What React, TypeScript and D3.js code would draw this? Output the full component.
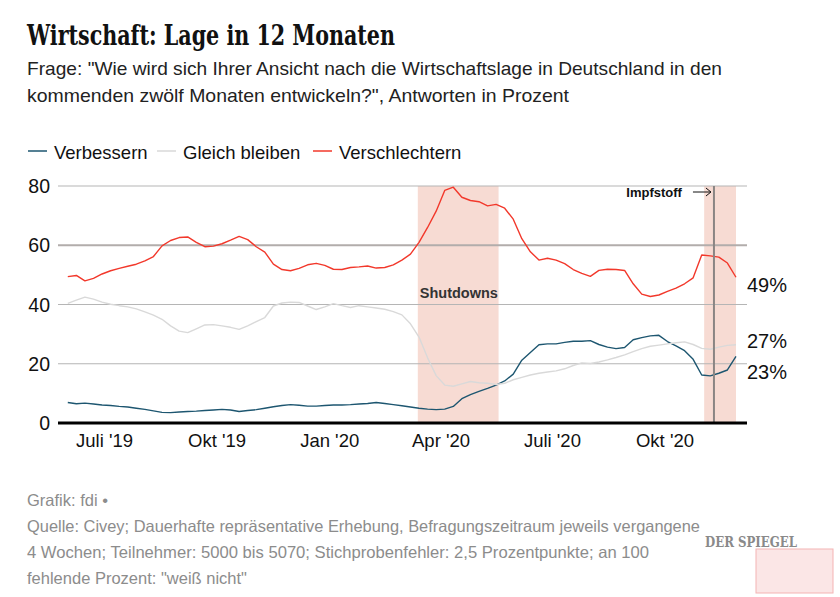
import React from "react";
import * as d3 from "d3";

const dates = [
  "2019-06-01","2019-06-08","2019-06-15","2019-06-22","2019-06-29","2019-07-06","2019-07-13","2019-07-20","2019-07-27","2019-08-03",
  "2019-08-10","2019-08-17","2019-08-24","2019-08-31","2019-09-07","2019-09-14","2019-09-21","2019-09-28","2019-10-05","2019-10-12",
  "2019-10-19","2019-10-26","2019-11-02","2019-11-09","2019-11-16","2019-11-23","2019-11-30","2019-12-07","2019-12-14","2019-12-21",
  "2019-12-28","2020-01-04","2020-01-11","2020-01-18","2020-01-25","2020-02-01","2020-02-08","2020-02-15","2020-02-22","2020-02-29",
  "2020-03-07","2020-03-14","2020-03-21","2020-03-28","2020-04-04","2020-04-11","2020-04-18","2020-04-25","2020-05-02","2020-05-09",
  "2020-05-16","2020-05-23","2020-05-30","2020-06-06","2020-06-13","2020-06-20","2020-06-27","2020-07-04","2020-07-11","2020-07-18",
  "2020-07-25","2020-08-01","2020-08-08","2020-08-15","2020-08-22","2020-08-29","2020-09-05","2020-09-12","2020-09-19","2020-09-26",
  "2020-10-03","2020-10-10","2020-10-17","2020-10-24","2020-10-31","2020-11-07","2020-11-14","2020-11-21","2020-11-28"
];

const verschlechtern = [
  49.4,49.8,48.0,48.8,50.3,51.4,52.2,52.9,53.6,54.7,
  56.2,59.8,61.6,62.6,62.8,61.0,59.5,59.7,60.5,61.7,
  63.0,61.9,59.5,57.7,53.6,51.8,51.4,52.2,53.4,53.9,
  53.2,51.9,51.8,52.5,52.7,53.0,52.3,52.5,53.4,55.0,
  57.0,61.0,66.0,71.5,78.5,79.6,76.2,75.1,74.7,73.3,
  73.8,72.5,68.8,62.2,57.8,55.0,55.6,55.0,53.8,51.8,
  50.5,49.5,51.5,51.9,51.8,51.5,47.0,43.5,42.7,43.2,
  44.4,45.5,47.0,49.0,56.7,56.4,56.0,54.0,49.2
];

const gleichBleiben = [
  40.4,41.5,42.5,41.8,40.8,40.1,39.6,39.2,38.5,37.5,
  36.4,35.0,32.8,31.0,30.5,31.8,33.1,33.2,32.8,32.3,
  31.6,32.8,34.2,35.6,39.5,40.5,40.8,40.7,39.5,38.3,
  39.2,40.3,39.6,39.0,39.6,39.2,38.8,38.4,37.6,36.5,
  33.5,29.0,22.0,16.0,12.8,12.4,13.2,14.0,13.6,13.4,
  13.0,13.4,14.6,15.4,16.2,16.8,17.2,17.6,18.3,19.4,
  20.3,20.1,20.6,21.3,22.1,23.0,24.1,25.1,25.9,26.3,
  26.7,27.1,27.4,26.5,25.2,24.9,25.6,26.2,26.4
];

const verbessern = [
  6.9,6.5,6.7,6.4,6.1,5.9,5.6,5.4,5.0,4.6,
  4.1,3.6,3.5,3.7,3.9,4.0,4.2,4.4,4.6,4.4,
  3.9,4.2,4.5,5.0,5.5,5.9,6.2,6.0,5.7,5.7,
  5.9,6.1,6.1,6.2,6.4,6.6,6.9,6.6,6.2,5.8,
  5.4,5.0,4.7,4.5,4.7,5.6,8.2,9.6,10.7,11.7,
  12.8,14.2,16.5,21.2,23.8,26.4,26.7,26.7,27.2,27.6,
  27.6,27.8,26.5,25.6,25.1,25.5,28.1,28.8,29.4,29.6,
  27.5,26.0,24.4,21.5,16.2,15.9,16.8,17.9,22.5
];

const seriesNames = ["Verbessern", "Gleich bleiben", "Verschlechtern"];
const endLabels = ["23%", "27%", "49%"];

const yTicks = [0, 20, 40, 60, 80];
const xTickDates = ["2019-07-01", "2019-10-01", "2020-01-01", "2020-04-01", "2020-07-01", "2020-10-01"];
const xTickLabels = ["Juli '19", "Okt '19", "Jan '20", "Apr '20", "Juli '20", "Okt '20"];

const bandStarts = ["2020-03-13", "2020-11-02"];
const bandEnds = ["2020-05-18", "2020-11-28"];
const bandLabels = ["Shutdowns", ""];
const vaccineDate = "2020-11-10";
const vaccineLabel = "Impfstoff";

const title = "Wirtschaft: Lage in 12 Monaten";
const subtitleLines = [
  "Frage: \"Wie wird sich Ihrer Ansicht nach die Wirtschaftslage in Deutschland in den",
  "kommenden zwölf Monaten entwickeln?\", Antworten in Prozent",
];
const footerLines = [
  "Grafik: fdi •",
  "Quelle: Civey; Dauerhafte repräsentative Erhebung, Befragungszeitraum jeweils vergangene",
  "4 Wochen; Teilnehmer: 5000 bis 5070; Stichprobenfehler: 2,5 Prozentpunkte; an 100",
  "fehlende Prozent: \"weiß nicht\"",
];

const parse = d3.timeParse("%Y-%m-%d");

export default function App() {
  const W = 840, H = 597;
  const left = 58, right = 747, top = 186, bottom = 423;
  const x = d3.scaleTime()
    .domain([parse("2019-05-24")!, parse("2020-12-07")!])
    .range([left, right]);
  const y = d3.scaleLinear().domain([0, 80]).range([bottom, top]);

  const parsed = dates.map((d) => parse(d)!);
  const allSeries = [verbessern, gleichBleiben, verschlechtern];
  const colors = ["#1d5670", "#d9d9d9", "#f2382b"];

  const line = d3.line<number>()
    .x((_, i) => x(parsed[i]))
    .y((v) => y(v));

  const sans = "'Liberation Sans', Arial, sans-serif";
  const labelDy = [23, 3, 14.5];

  const legendX = [28, 157, 313];
  const subtitleWidths = [695, 542];
  const footerWidths = [0, 673, 622, 0];

  const vx = x(parse(vaccineDate)!);

  return (
    <svg width={W} height={H} style={{ position: "absolute", left: 0, top: 0, background: "#fff" }}>
      <rect x={0} y={0} width={W} height={H} fill="#fff" />
      <text x={27} y={45} fontFamily="'DejaVu Serif', 'Liberation Serif', serif" fontWeight={700}
        fontSize={27} textLength={368} lengthAdjust="spacingAndGlyphs" fill="#111">{title}</text>
      {subtitleLines.map((t, i) => (
        <text key={i} x={27} y={75 + i * 27} fontFamily={sans} fontSize={19}
          textLength={subtitleWidths[i]} lengthAdjust="spacingAndGlyphs" fill="#222">{t}</text>
      ))}

      {seriesNames.map((n, i) => (
        <g key={n}>
          <line x1={legendX[i]} x2={legendX[i] + 19} y1={151} y2={151} stroke={colors[i]} strokeWidth={1.5} />
          <text x={legendX[i] + 26} y={159} fontFamily={sans} fontSize={18.5} fill="#111">{n}</text>
        </g>
      ))}

      {bandStarts.map((s, i) => {
        const x0 = x(parse(s)!), x1 = x(parse(bandEnds[i])!);
        return (
          <g key={s}>
            <rect x={x0} y={top} width={x1 - x0} height={bottom - top} fill="#f7dbd3" />
            {bandLabels[i] && (
              <text x={x0 + 2} y={298} fontFamily={sans} fontWeight={700} fontSize={14.5} fill="#333">{bandLabels[i]}</text>
            )}
          </g>
        );
      })}

      {yTicks.filter((t) => t !== 0).map((t) => (
        <line key={t} x1={left} x2={right} y1={y(t)} y2={y(t)} stroke={t === 60 ? "#b2adab" : "#b5b5b5"} strokeWidth={t === 60 ? 2 : 1} />
      ))}
      {yTicks.map((t) => (
        <text key={t} x={50} y={y(t) + 7} textAnchor="end" fontFamily={sans} fontSize={19.5} fill="#111">{t}</text>
      ))}

      {allSeries.map((s, i) => (
        <path key={i} d={line(s) || ""} fill="none" stroke={colors[i]} strokeWidth={1.4} strokeLinejoin="round" />
      ))}

      <line x1={vx} x2={vx} y1={top} y2={bottom} stroke="#8a8584" strokeWidth={2} />
      <text x={vx - 32} y={197} textAnchor="end" fontFamily={sans} fontWeight={700} fontSize={13} fill="#111">{vaccineLabel}</text>
      <line x1={vx - 21} x2={vx - 3} y1={192} y2={192} stroke="#111" strokeWidth={1} />
      <path d={`M${vx - 8},188 L${vx - 3},192 L${vx - 8},196`} fill="none" stroke="#111" strokeWidth={1} />

      <line x1={left} x2={right} y1={bottom} y2={bottom} stroke="#000" strokeWidth={3} />
      {xTickDates.map((d, i) => (
        <text key={d} x={x(parse(d)!)} y={447} textAnchor="middle" fontFamily={sans} fontSize={18.5} fill="#111">{xTickLabels[i]}</text>
      ))}

      {allSeries.map((s, i) => (
        <text key={i} x={747} y={y(s[s.length - 1]) + labelDy[i]} fontFamily={sans} fontSize={20} fill="#111">{endLabels[i]}</text>
      ))}

      {footerLines.map((t, i) => (
        <text key={i} x={27} y={506 + i * 26} fontFamily={sans} fontSize={16.5} fill="#8c8c8c"
          {...(footerWidths[i] ? { textLength: footerWidths[i], lengthAdjust: "spacingAndGlyphs" } : {})}>{t}</text>
      ))}

      <text x={705} y={547} fontFamily="'DejaVu Serif', serif" fontWeight={700} fontSize={15}
        textLength={92} lengthAdjust="spacingAndGlyphs" fill="#8a8a8a">DER SPIEGEL</text>
      <rect x={756} y={549} width={77} height={44} fill="#fbe6e6" stroke="#f4b3b3" strokeWidth={1} />
    </svg>
  );
}
